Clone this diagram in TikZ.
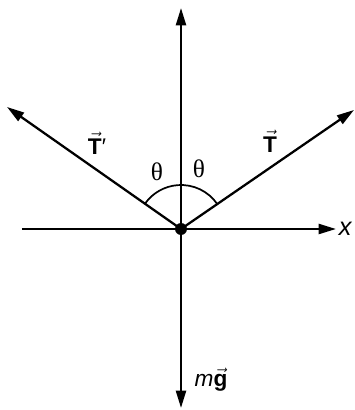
\documentclass[tikz,border=0pt]{standalone}
\usepackage{fontspec}
\setmainfont{Liberation Sans}
\newfontfamily\thetafont{Liberation Serif}
\usepackage{xcolor}
\usepackage{tikz}
\usetikzlibrary{arrows.meta,positioning,calc}
\tikzset{
    force_vec/.style={line width=1.7pt, -{Triangle[length=13pt,width=7.5pt]}},
    axis_line/.style={line width=1.7pt},
    force_lbl/.style={font=\fontsize{17}{19}\selectfont, inner sep=1pt},
    angle_lbl/.style={font=\thetafont\fontsize{19}{21}\selectfont, inner sep=1pt},
    origin_dot/.style={circle, fill=black, inner sep=0pt, minimum size=9pt}
}
\newcommand{\vT}{$\vec{\mbox{\bfseries T}}$}

\begin{document}
\begin{tikzpicture}[x=0.75pt, y=0.75pt]
\useasboundingbox (-181,-181) rectangle (173,229);
% tips of the vectors
\coordinate (top) at (0,221);
\coordinate (bottom) at (0,-179);
\coordinate (left) at (-159,-0);
\coordinate (xend) at (155,0);
\coordinate (tl) at (-174,122);
\coordinate (tr) at (173,119);
\node[origin_dot] (o) at (0,0) {};
% axes and forces
\draw[axis_line] (left) -- (o);
\draw[force_vec] (o.center) -- (xend);
\draw[force_vec] (o.center) -- (top);
\draw[force_vec] (o.center) -- (bottom);
\draw[force_vec] (o.center) -- (tl);
\draw[force_vec] (o.center) -- (tr);
% angle arc
\draw[line width=1.3pt] (34.5:44) arc (34.5:145:44);
% labels
\node[font=\fontsize{19}{21}\selectfont\itshape, anchor=west, inner sep=0.5pt] (xl) at (157,0) {x};
\node[force_lbl] (tp) at (-84,86) {\vT′};
\node[force_lbl] (t) at (89,88) {\vT};
\node[angle_lbl] (th1) at (-24,57) {θ};
\node[angle_lbl] (th2) at (18,60) {θ};
\node[force_lbl] (mg) at (30,-151) {\itshape m$\vec{\mbox{\bfseries\upshape g}}$};
\end{tikzpicture}
\end{document}
